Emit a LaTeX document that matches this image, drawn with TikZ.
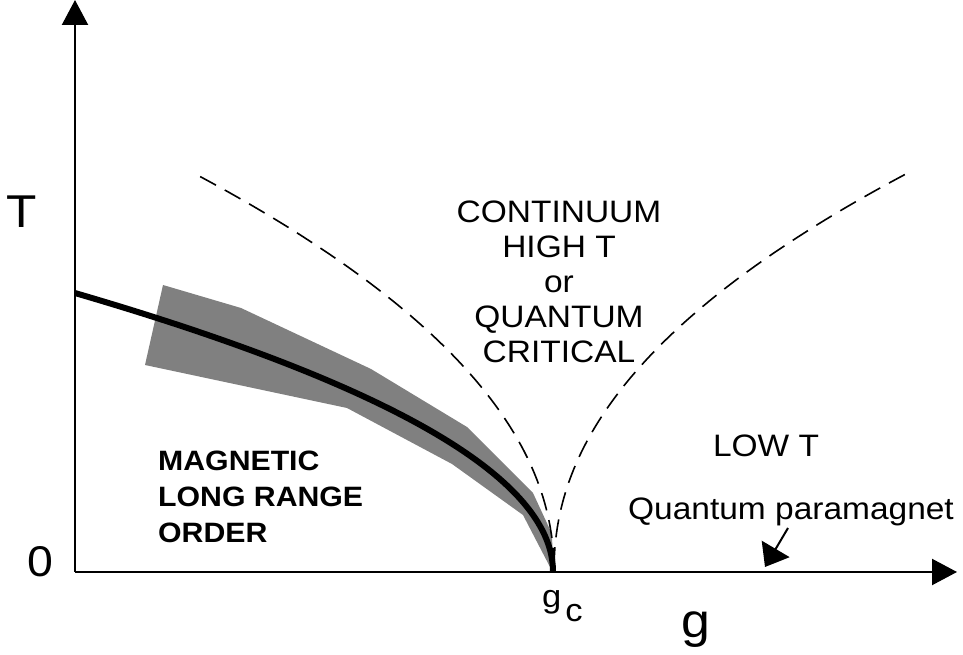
\documentclass[tikz,border=0pt]{standalone}
\usepackage{fontspec}
\setmainfont{Liberation Sans}[FakeStretch=1.08]
\usepackage{tikz}
\usetikzlibrary{arrows.meta}

\begin{document}
\begin{tikzpicture}[
    x=1pt, y=1pt,
    axis/.style={line width=2.2pt, -{Triangle[length=25pt, width=26pt]}},
    transition/.style={line width=6pt},
    crossover/.style={line width=1.6pt, dash pattern=on 18pt off 10pt},
    band/.style={fill=black!50, draw=none},
    pointer/.style={line width=2pt, -{Triangle[length=21pt, width=32pt]}},
    region/.style={font=\fontsize{31}{35}\selectfont, align=center, inner sep=0pt},
    axislabel/.style={inner sep=0pt}
]
  \useasboundingbox (-75,-83) rectangle (888,572);
  % Uncertainty band round the ordering line.
  \fill[band] (88,287) -- (166,264) -- (296,203) -- (392,145) -- (458,79)
    -- (477,38) -- (478,2) -- (475,5) -- (448,57) -- (377,108)
    -- (272,164) -- (70,207) -- cycle;
  % Ordering transition, T ~ sqrt(g_c - g).
  \draw[transition] plot[variable=\t, domain=0:21.86, samples=90]
    ({478-\t*\t}, {12.76*\t});
  % Crossover lines on both sides of g_c.
  \draw[crossover] plot[variable=\t, domain=18.81:0.3, samples=90]
    ({479-\t*\t}, {23.64*\t^0.96});
  \draw[crossover] plot[variable=\t, domain=18.73:0.3, samples=90]
    ({479+\t*\t}, {25.3*\t^0.94});
  % Axes.
  \coordinate (O) at (0,0);
  \draw[axis] (O) -- (0,572);
  \draw[axis] (O) -- (882,0);
  \node[axislabel, font=\fontsize{46}{46}\selectfont] (T) at (-53.5,360) {T};
  \node[axislabel, font=\fontsize{43}{43}\selectfont] (zero) at (-35,10) {0};
  \node[axislabel, anchor=base, font=\fontsize{48}{48}\selectfont] (g) at (620.5,-66) {g};
  \node[axislabel, anchor=base west, font=\fontsize{32}{32}\selectfont] (gc) at (467,-36)
    {g\hspace{4pt}\raisebox{-14pt}{c}};
  % Regions.
  \node[region] (crit) at (484,290)
    {CONTINUUM\\HIGH T\\or\\QUANTUM\\CRITICAL};
  \node[region, anchor=north west, align=left, font=\fontsize{28}{36}\selectfont\bfseries]
    (order) at (83,121) {MAGNETIC\\LONG RANGE\\ORDER};
  \node[region] (lowT) at (691,126) {LOW T};
  \node[region, anchor=base] (qpm) at (716,52) {Quantum paramagnet};
  \coordinate (tail) at (713,44);
  \coordinate (head) at (690,5);
  \draw[pointer] (tail) -- (head);
\end{tikzpicture}
\end{document}
